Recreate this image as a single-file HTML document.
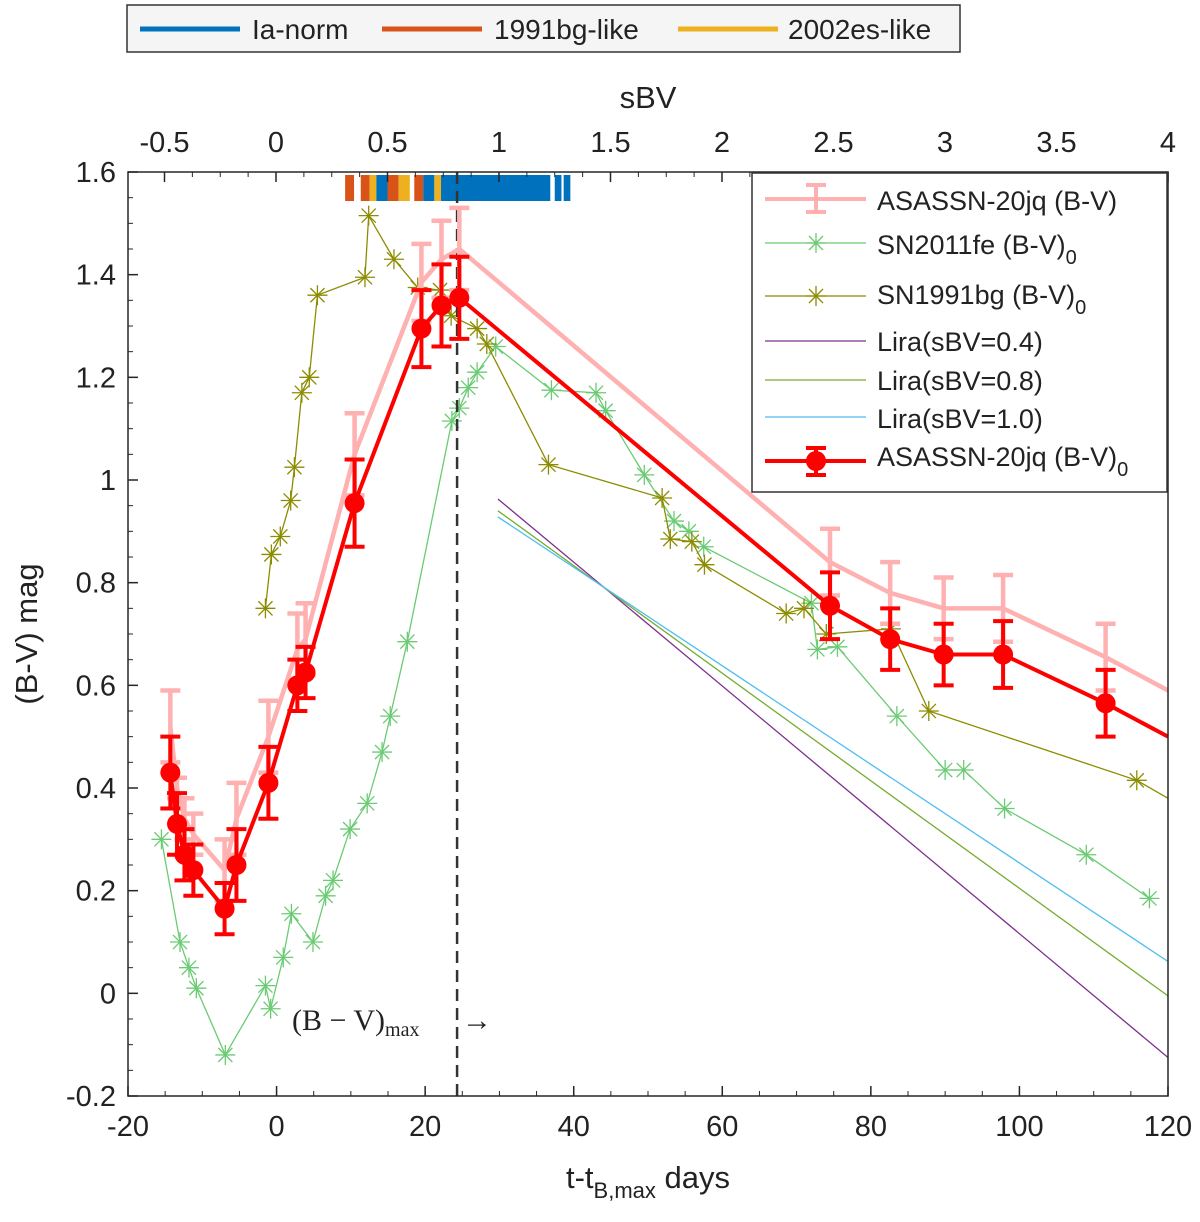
<!DOCTYPE html>
<html><head><meta charset="utf-8"><style>
body{margin:0;background:#fff;}
svg text{font-family:"Liberation Sans",Arial,sans-serif;fill:#222;}
svg text.serif{font-family:"Liberation Serif","DejaVu Serif",serif;}
</style></head><body>
<svg id="chart" width="1200" height="1217" viewBox="0 0 1200 1217" xmlns="http://www.w3.org/2000/svg"></svg>
<script>
// ---- data ----
const redDays=[-14.3,-13.4,-12.4,-11.2,-7,-5.4,-1.1,2.8,3.9,10.5,19.5,22.2,24.6,74.5,82.6,89.8,97.8,111.6];
const redVals=[0.43,0.33,0.27,0.24,0.165,0.25,0.41,0.60,0.625,0.955,1.295,1.34,1.355,0.755,0.69,0.66,0.66,0.565];
const redErr=[0.07,0.06,0.05,0.05,0.05,0.07,0.07,0.05,0.05,0.085,0.075,0.08,0.08,0.065,0.06,0.06,0.065,0.065];
const redEnd=[120,0.50];
const pinkVals=[0.52,0.40,0.34,0.31,0.24,0.34,0.50,0.67,0.69,1.05,1.385,1.43,1.45,0.84,0.78,0.75,0.75,0.655];
const pinkErr=[0.07,0.02,0.04,0.04,0.06,0.07,0.07,0.07,0.07,0.08,0.075,0.075,0.08,0.065,0.06,0.06,0.065,0.065];
const pinkEnd=[120,0.59];
const feDays=[-15.5,-13,-11.8,-10.8,-6.9,-1.5,-0.8,0.9,2,4.9,6.6,7.6,9.9,12.2,14.2,15.3,17.6,23.6,24.6,25.8,27,29.5,37,43,44.3,49.5,53.5,55.5,57.5,72,72.8,75.5,83.5,90,92.5,98,109,117.5];
const feVals=[0.30,0.10,0.05,0.01,-0.12,0.015,-0.03,0.07,0.155,0.10,0.19,0.22,0.32,0.37,0.47,0.54,0.685,1.115,1.14,1.18,1.21,1.26,1.175,1.17,1.135,1.01,0.92,0.90,0.87,0.76,0.67,0.675,0.54,0.435,0.435,0.36,0.27,0.185];
const bgDays=[-1.5,-0.7,0.5,1.9,2.4,3.4,4.4,5.5,11.9,12.4,15.8,19,22,23.5,27,28.3,36.6,51.9,53,55.9,57.6,68.6,71,74,82.7,87.8,115.8];
const bgVals=[0.75,0.855,0.89,0.96,1.025,1.17,1.20,1.36,1.395,1.515,1.43,1.375,1.37,1.32,1.295,1.265,1.03,0.965,0.885,0.88,0.835,0.74,0.75,0.70,0.71,0.55,0.415];
const bgEnd=[120,0.38];
const liraNames=["lira-sbv-0.4","lira-sbv-0.8","lira-sbv-1.0"];
const liraStart=[0.963,0.94,0.928];
const liraEnd=[-0.125,-0.005,0.062];
const liraDays=[29.8,120];
const sbvStripes=[[0.31,0.35,"b"],[0.38,0.42,"b"],[0.42,0.45,"e"],[0.45,0.5,"n"],[0.5,0.55,"b"],[0.55,0.6,"e"],[0.62,0.66,"b"],[0.66,0.71,"n"],[0.71,0.74,"e"],[0.74,1.23,"n"],[1.25,1.28,"n"],[1.29,1.32,"n"]];
const xTicks=[-20,0,20,40,60,80,100,120];
const yTicks=[-0.2,0,0.2,0.4,0.6,0.8,1,1.2,1.4,1.6];
const sTicks=[-0.5,0,0.5,1,1.5,2,2.5,3,3.5,4];
const vLineDay=24.3;

// ---- axes ----
const L=128,R=1168,T=172,B=1096;
const X=d=>L+(d+20)/140*(R-L);
const Y=v=>B-(v+0.2)/1.8*(B-T);
const S=s=>276+s*223;
const svg=document.getElementById('chart');
const NS="http://www.w3.org/2000/svg";
function mk(tag,attrs,parent){const e=document.createElementNS(NS,tag);for(const k in attrs)e.setAttribute(k,attrs[k]);(parent||svg).appendChild(e);return e;}
function fmt(v){return (Math.round(v*10)/10).toString();}

// sBV stripes
const cols={n:"#0072BD",b:"#D95319",e:"#EDB120"};
const stripeG=mk('g',{});


sbvStripes.forEach(s=>{const r=mk('rect',{x:S(s[0]),y:175,width:S(s[1])-S(s[0]),height:26,fill:cols[s[2]]},stripeG);

});

// Lira lines
const liraCols=["#7E2F8E","#77AC30","#4DBEEE"];
liraStart.forEach((v,i)=>{const l=mk('line',{x1:X(liraDays[0]),y1:Y(v),x2:X(liraDays[1]),y2:Y(liraEnd[i]),stroke:liraCols[i],'stroke-width':1.3});

});

function star(g,x,y,c,r){[[0,1],[1,0],[0.707,0.707],[0.707,-0.707]].forEach(([a,b])=>mk('line',{x1:x-a*r,y1:y-b*r,x2:x+a*r,y2:y+b*r,stroke:c,'stroke-width':1.3},g));}
function series(days,vals,end,col,name){
  const g=mk('g',{});
  
  
  let pts=days.map((d,i)=>X(d)+","+Y(vals[i]));
  if(end)pts.push(X(end[0])+","+Y(end[1]));
  mk('polyline',{points:pts.join(' '),fill:'none',stroke:col,'stroke-width':1.3},g);
  days.forEach((d,i)=>star(g,X(d),Y(vals[i]),col,10));
}
series(feDays,feVals,null,"#6ACB73","sn2011fe-series");
series(bgDays,bgVals,bgEnd,"#8C8C00","sn1991bg-series");

// vertical dashed line
const vl=mk('line',{x1:X(vLineDay),y1:T,x2:X(vLineDay),y2:B,stroke:'#333','stroke-width':2.5,'stroke-dasharray':'12,7'});


const vt=mk('text',{x:292,y:1030,'font-size':30,'class':'serif'});


vt.innerHTML='(B − V)<tspan font-size="20" dy="6">max</tspan>';
const va=mk('text',{x:462,y:1030,'font-size':30,'class':'serif'});


va.textContent='→';

function errSeries(vals,err,end,col,name,w,marker){
  const g=mk('g',{});
  
  
  let pts=redDays.map((d,i)=>X(d)+","+Y(vals[i]));pts.push(X(end[0])+","+Y(end[1]));
  mk('polyline',{points:pts.join(' '),fill:'none',stroke:col,'stroke-width':w},g);
  redDays.forEach((d,i)=>{const x=X(d),y1=Y(vals[i]+err[i]),y2=Y(vals[i]-err[i]);
    mk('line',{x1:x,y1:y1,x2:x,y2:y2,stroke:col,'stroke-width':w},g);
    mk('line',{x1:x-10,y1:y1,x2:x+10,y2:y1,stroke:col,'stroke-width':w},g);
    mk('line',{x1:x-10,y1:y2,x2:x+10,y2:y2,stroke:col,'stroke-width':w},g);
    if(marker)mk('circle',{cx:x,cy:Y(vals[i]),r:10,fill:col},g);});
}
errSeries(pinkVals,pinkErr,pinkEnd,"#FFB0B0","asassn-20jq-observed",4.5,false);
errSeries(redVals,redErr,redEnd,"#FF0000","asassn-20jq-dereddened",4,true);

// axes box & ticks
const box=mk('rect',{x:L,y:T,width:R-L,height:B-T,fill:'none',stroke:'#262626','stroke-width':1.5});


xTicks.forEach(t=>{const x=X(t);mk('line',{x1:x,y1:B,x2:x,y2:B-10,stroke:'#262626','stroke-width':1.5});
  const e=mk('text',{x:x,y:B+40,'font-size':29,'text-anchor':'middle'});e.textContent=t;
  
  });
for(let d=-20;d<=120;d+=5){mk('line',{x1:X(d),y1:B,x2:X(d),y2:B-5,stroke:'#262626','stroke-width':1});}
yTicks.forEach(t=>{const y=Y(t);mk('line',{x1:L,y1:y,x2:L+10,y2:y,stroke:'#262626','stroke-width':1.5});
  const e=mk('text',{x:L-12,y:y+10,'font-size':29,'text-anchor':'end'});e.textContent=fmt(t);
  
  });
for(let v=-0.2;v<=1.6001;v+=0.05){mk('line',{x1:L,y1:Y(v),x2:L+5,y2:Y(v),stroke:'#262626','stroke-width':1});}
sTicks.forEach(t=>{const x=S(t);mk('line',{x1:x,y1:T,x2:x,y2:T+10,stroke:'#262626','stroke-width':1.5});
  const e=mk('text',{x:x,y:T-20,'font-size':29,'text-anchor':'middle'});e.textContent=fmt(t);
  
  });
for(let s=-0.5;s<=4.001;s+=0.125){mk('line',{x1:S(s),y1:T,x2:S(s),y2:T+5,stroke:'#262626','stroke-width':1});}
</script>
<svg style="position:absolute;left:0;top:0" width="1200" height="1217" xmlns="http://www.w3.org/2000/svg">
<g font-family="Liberation Sans, Arial, sans-serif" fill="#222">
<text x="648" y="1188" font-size="31" text-anchor="middle">t-t<tspan font-size="22" dy="10">B,max</tspan><tspan dy="-10"> days</tspan></text>
<text transform="translate(37,634) rotate(-90)" font-size="31" text-anchor="middle">(B-V) mag</text>
<text x="648" y="108" font-size="31" text-anchor="middle">sBV</text>
</g>
<g font-family="Liberation Sans, Arial, sans-serif" font-size="28" fill="#222">
<rect x="127" y="5" width="833" height="47" fill="#f5f5f5" stroke="#333" stroke-width="1.5"/>
<line x1="140" y1="29" x2="240" y2="29" stroke="#0072BD" stroke-width="5"/><text x="252" y="39">Ia-norm</text>
<line x1="382" y1="29" x2="482" y2="29" stroke="#D95319" stroke-width="5"/><text x="494" y="39">1991bg-like</text>
<line x1="678" y1="29" x2="778" y2="29" stroke="#EDB120" stroke-width="5"/><text x="788" y="39">2002es-like</text>
</g>
<g font-family="Liberation Sans, Arial, sans-serif" font-size="27" fill="#222">
<rect x="752" y="173" width="415" height="319" fill="#fff" stroke="#333" stroke-width="1.5"/>
<line x1="765" y1="199" x2="866" y2="199" stroke="#FFB0B0" stroke-width="4"/><line x1="816" y1="185" x2="816" y2="212" stroke="#FFB0B0" stroke-width="4"/><line x1="806" y1="185" x2="826" y2="185" stroke="#FFB0B0" stroke-width="4"/><line x1="806" y1="212" x2="826" y2="212" stroke="#FFB0B0" stroke-width="4"/>
<text x="877" y="210">ASASSN-20jq (B-V)</text>
<line x1="765" y1="243" x2="866" y2="243" stroke="#6ACB73" stroke-width="1.3"/><text x="877" y="254">SN2011fe (B-V)<tspan font-size="20" dy="10">0</tspan></text>
<path d="M816 233V253M806 243H826M809 236L823 250M809 250L823 236" stroke="#6ACB73" stroke-width="1.3"/>
<line x1="765" y1="296" x2="866" y2="296" stroke="#8C8C00" stroke-width="1.3"/><text x="877" y="304">SN1991bg (B-V)<tspan font-size="20" dy="10">0</tspan></text>
<path d="M816 286V306M806 296H826M809 289L823 303M809 303L823 289" stroke="#8C8C00" stroke-width="1.3"/>
<line x1="765" y1="341" x2="866" y2="341" stroke="#7E2F8E" stroke-width="1.3"/><text x="877" y="351">Lira(sBV=0.4)</text>
<line x1="765" y1="380" x2="866" y2="380" stroke="#77AC30" stroke-width="1.3"/><text x="877" y="390">Lira(sBV=0.8)</text>
<line x1="765" y1="417" x2="866" y2="417" stroke="#4DBEEE" stroke-width="1.3"/><text x="877" y="428">Lira(sBV=1.0)</text>
<line x1="765" y1="461" x2="866" y2="461" stroke="#FF0000" stroke-width="4"/><circle cx="816" cy="461" r="10" fill="#FF0000"/><line x1="816" y1="448" x2="816" y2="475" stroke="#FF0000" stroke-width="4"/><line x1="806" y1="448" x2="826" y2="448" stroke="#FF0000" stroke-width="4"/><line x1="806" y1="475" x2="826" y2="475" stroke="#FF0000" stroke-width="4"/>
<text x="877" y="466">ASASSN-20jq (B-V)<tspan font-size="20" dy="10">0</tspan></text>
</g>
</svg>
</body></html>
